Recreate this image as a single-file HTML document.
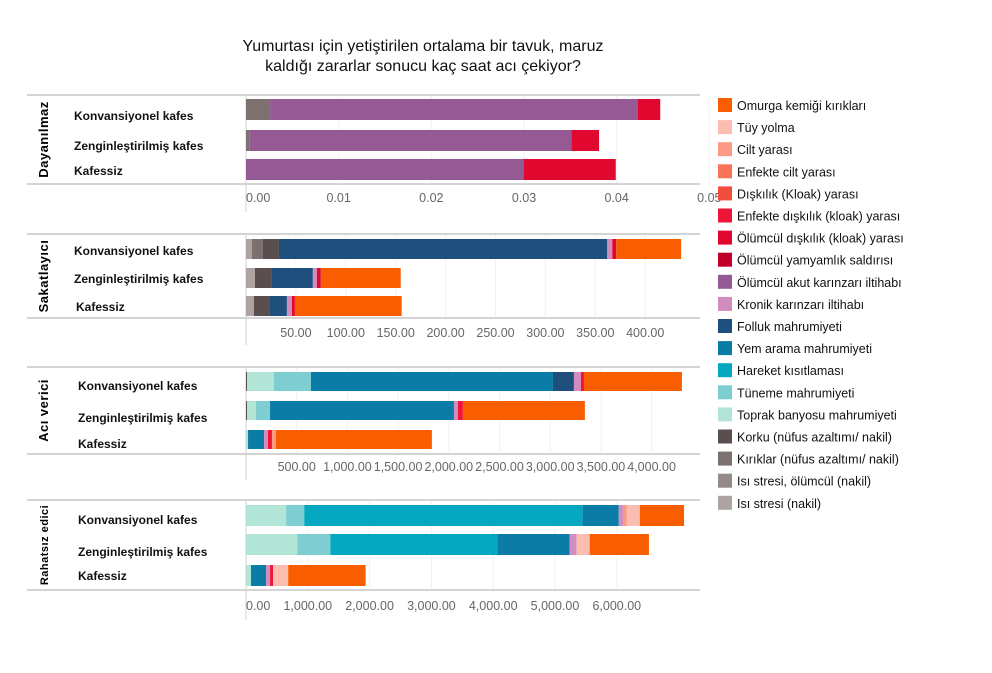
<!DOCTYPE html>
<html><head><meta charset="utf-8"><style>
body{margin:0;background:#fff;}
svg{display:block;font-family:"Liberation Sans",sans-serif;}
</style></head><body>
<svg id="c" width="992" height="673">
<text x="423" y="51" text-anchor="middle" font-size="16" fill="#111">Yumurtası için yetiştirilen ortalama bir tavuk, maruz</text>
<text x="423" y="71" text-anchor="middle" font-size="16" fill="#111">kaldığı zararlar sonucu kaç saat acı çekiyor?</text>
</svg>
<script>
const seriesNames=["Omurga kemiği kırıkları","Tüy yolma","Cilt yarası","Enfekte cilt yarası","Dışkılık (Kloak) yarası","Enfekte dışkılık (kloak) yarası","Ölümcül dışkılık (kloak) yarası","Ölümcül yamyamlık saldırısı","Ölümcül akut karınzarı iltihabı","Kronik karınzarı iltihabı","Folluk mahrumiyeti","Yem arama mahrumiyeti","Hareket kısıtlaması","Tüneme mahrumiyeti","Toprak banyosu mahrumiyeti","Korku (nüfus azaltımı/ nakil)","Kırıklar (nüfus azaltımı/ nakil)","Isı stresi, ölümcül (nakil)","Isı stresi (nakil)"];
const seriesColors=["#f85d00","#fbbdb0","#fa9a85","#f87459","#f24e3e","#ee1538","#e0082f","#c0002c","#955a94","#d08dbe","#1f4f7d","#0b7ca5","#05a7c1","#7ecdd0","#b2e5d8","#5a4e4e","#7c716f","#948a88","#ada4a1"];
const categories=["Konvansiyonel kafes","Zenginleştirilmiş kafes","Kafessiz"];
const panelNames=["Dayanılmaz","Sakatlayıcı","Acı verici","Rahatsız edici"];
const p1Konv=[0,0,0,0,0,0,0.0024,0,0.0397,0,0,0,0,0,0,0,0.0026,0,0];
const p1Zeng=[0,0,0,0,0,0,0.003,0,0.0347,0,0,0,0,0,0,0,0.0004,0,0];
const p1Kaf=[0,0,0,0,0,0,0.0099,0,0.030,0,0,0,0,0,0,0,0,0,0];
const p2Konv=[65,0,0,0,0,0,4,0,0,5,329,0,0,0,0,16,11,0,6];
const p2Zeng=[80,0,0,0,0,0,4,0,0,4,41,0,0,0,0,17,0,0,9];
const p2Kaf=[107,0,0,0,0,0,3,0,0,5,17,0,0,0,0,16,0,0,8];
const p3Konv=[966,0,0,0,0,30,0,0,0,69,207,2386,0,365,266,10,0,0,0];
const p3Zeng=[1203,0,0,0,0,49,0,0,0,39,0,1814,0,138,89,10,0,0,0];
const p3Kaf=[1538,0,39,0,0,39,0,0,0,39,0,158,0,0,20,0,0,0,0];
const p4Konv=[715,211,49,0,0,0,0,0,0,81,0,585,4504,293,650,0,0,0,0];
const p4Zeng=[959,211,0,0,0,0,0,0,0,114,0,1171,2699,537,829,0,0,0,0];
const p4Kaf=[1252,244,0,0,0,49,0,0,0,65,0,244,0,0,81,0,0,0,0];
const p1Ticks=[0,0.01,0.02,0.03,0.04,0.05];
const p2Ticks=[50,100,150,200,250,300,350,400];
const p3Ticks=[500,1000,1500,2000,2500,3000,3500,4000];
const p4Ticks=[0,1000,2000,3000,4000,5000,6000];
const panelData=[[p1Konv,p1Zeng,p1Kaf],[p2Konv,p2Zeng,p2Kaf],[p3Konv,p3Zeng,p3Kaf],[p4Konv,p4Zeng,p4Kaf]];
const panelTicks=[p1Ticks,p2Ticks,p3Ticks,p4Ticks];
const fmt=[v=>v.toFixed(2),v=>v.toFixed(2),v=>v.toLocaleString('en-US',{minimumFractionDigits:2}),v=>v.toLocaleString('en-US',{minimumFractionDigits:2})];
const geo=[
 {top:95,bot:184,bars:[99,130,159],h:21,ly:202,lineEnd:212,scale:9267,labY:[120,150,175],pfs:13},
 {top:234,bot:318,bars:[239,268,296],h:20,ly:337,lineEnd:345,scale:0.998,labY:[255,283,311],pfs:13},
 {top:367,bot:454,bars:[372,401,430],h:19,ly:471,lineEnd:480,scale:0.1014,labY:[390,422,448],pfs:13},
 {top:500,bot:590,bars:[505,534,565],h:21,ly:610,lineEnd:620,scale:0.0618,labY:[524,556,580],pfs:11}
];
const X0=246;
const svg=document.getElementById('c');
const NS='http://www.w3.org/2000/svg';
function mk(t,a,p){const e=document.createElementNS(NS,t);for(const k in a)e.setAttribute(k,a[k]);(p||svg).appendChild(e);return e;}
geo.forEach((g,pi)=>{
 const grp=mk('g',{});
 
 
 const xs=v=>X0+v*g.scale;
 panelTicks[pi].forEach(t=>{if(t>0){const l=mk('line',{x1:xs(t),x2:xs(t),y1:g.top,y2:g.bot,stroke:'#f2f2f2'},grp);}});
 const t1=mk('line',{x1:27,x2:700,y1:g.top,y2:g.top,stroke:'#d4d4d4','stroke-width':2},grp);
 
 const b1=mk('line',{x1:27,x2:700,y1:g.bot,y2:g.bot,stroke:'#d4d4d4','stroke-width':2},grp);
 
 const ax=mk('line',{x1:X0,x2:X0,y1:g.top,y2:g.lineEnd,stroke:'#d0d0d0'},grp);
 
 const cy=(g.top+g.bot)/2;
 const pl=mk('text',{x:0,y:0,transform:`translate(48,${cy}) rotate(-90)`,'text-anchor':'middle','font-size':g.pfs,'font-weight':'bold','letter-spacing':'0.5',fill:'#000'},grp);
 pl.textContent=panelNames[pi];
 
 panelData[pi].forEach((row,ri)=>{
  const y=g.bars[ri];
  let lx=pi>=2?78:74; if(pi==1&&ri==2)lx=76;
  const lab=mk('text',{x:lx,y:g.labY[ri],'font-size':12,'font-weight':'bold',fill:'#111'},grp);
  lab.textContent=categories[ri];
  
  let acc=0;
  for(let s=18;s>=0;s--){const v=row[s];if(!v)continue;
   const r=mk('rect',{x:xs(acc),y:y,width:v*g.scale,height:g.h,fill:seriesColors[s]},grp);
   
   acc+=v;}
 });
 panelTicks[pi].forEach((t,ti)=>{
  const tx=mk('text',{x:t===0?X0:xs(t),y:g.ly,'text-anchor':t===0?'start':'middle','font-size':12.5,fill:'#666'},grp);
  tx.textContent=fmt[pi](t);
  
 });
});
const lg=mk('g',{});

seriesNames.forEach((n,i)=>{
 const y=98+i*22.1;
 const sq=mk('rect',{x:718,y:y,width:14,height:14,fill:seriesColors[i]},lg);
 
 const tx=mk('text',{x:737,y:y+12,'font-size':12.5,fill:'#111'},lg);
 tx.textContent=n;
 
});
</script>
</body></html>
